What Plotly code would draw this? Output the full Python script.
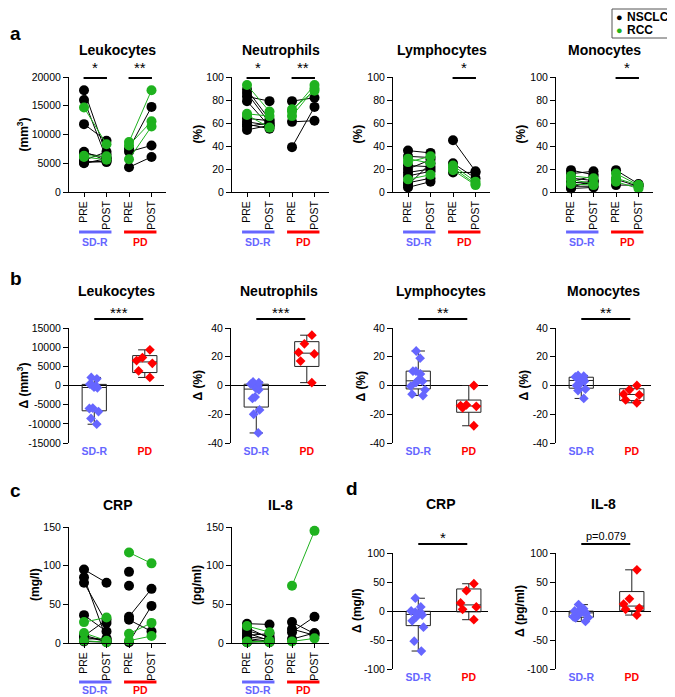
import numpy as np
import plotly.graph_objects as go

W, H = 675, 697
PAGE_OFFSET = 8  # the page body margin that shifts the figure inside the window
FONT = "Liberation Sans, Arial, Helvetica, sans-serif"
BLACK, GREEN, BLUE, RED = "#000000", "#1fb21f", "#6666ff", "#ff0000"
COHORT_COLORS = {"NSCLC": BLACK, "RCC": GREEN}

# ---------------- data ----------------
stage_labels = ["PRE", "POST", "PRE", "POST"]
group_labels = ["SD-R", "PD"]
cohort_names = ["NSCLC", "RCC"]

# panel a: paired PRE/POST values (SD-R and PD), cohort of each patient
leuko_sdr_pre = [17700, 16000, 14700, 11800, 7000, 6800, 6300, 6100, 5500, 5300, 5100, 5000]
leuko_sdr_post = [6500, 5800, 8300, 8900, 5500, 6000, 6200, 5600, 7000, 5200, 5400, 5800]
leuko_sdr_cohort = ["NSCLC", "NSCLC", "RCC", "NSCLC", "NSCLC", "NSCLC", "RCC", "RCC", "NSCLC", "NSCLC", "NSCLC", "NSCLC"]
leuko_pd_pre = [8700, 8100, 7500, 7000, 5700, 4300]
leuko_pd_post = [17700, 12300, 14800, 8100, 11400, 6100]
leuko_pd_cohort = ["RCC", "RCC", "NSCLC", "NSCLC", "RCC", "NSCLC"]

neut_sdr_pre = [93, 89, 86, 83, 79, 68, 67, 64, 61, 59, 57, 54]
neut_sdr_post = [70, 63, 60, 79, 57, 66, 56, 62, 58, 55, 60, 58]
neut_sdr_cohort = ["RCC", "NSCLC", "NSCLC", "NSCLC", "NSCLC", "RCC", "RCC", "NSCLC", "NSCLC", "NSCLC", "NSCLC", "NSCLC"]
neut_pd_pre = [79, 72, 70, 66, 61, 39]
neut_pd_post = [82, 88, 93, 90, 62, 74]
neut_pd_cohort = ["NSCLC", "RCC", "RCC", "RCC", "NSCLC", "NSCLC"]

lymph_sdr_pre = [36, 31, 29, 26, 23, 20, 17, 14, 11, 8, 6, 4]
lymph_sdr_post = [34, 30, 25, 31, 22, 28, 20, 18, 15, 12, 25, 9]
lymph_sdr_cohort = ["NSCLC", "NSCLC", "RCC", "RCC", "NSCLC", "NSCLC", "NSCLC", "NSCLC", "RCC", "NSCLC", "NSCLC", "NSCLC"]
lymph_pd_pre = [45, 25, 23, 21, 19, 17]
lymph_pd_post = [18, 12, 9, 7, 6, 17]
lymph_pd_cohort = ["NSCLC", "NSCLC", "RCC", "RCC", "RCC", "NSCLC"]

mono_sdr_pre = [19, 16, 14, 12, 11, 9, 8, 7, 6, 5, 4, 3]
mono_sdr_post = [15, 18, 12, 10, 7, 14, 9, 6, 8, 5, 10, 4]
mono_sdr_cohort = ["NSCLC", "NSCLC", "RCC", "NSCLC", "RCC", "NSCLC", "NSCLC", "RCC", "NSCLC", "NSCLC", "NSCLC", "NSCLC"]
mono_pd_pre = [19, 16, 12, 11, 9, 6]
mono_pd_post = [7, 6, 6, 5, 3, 6]
mono_pd_cohort = ["NSCLC", "RCC", "RCC", "NSCLC", "RCC", "NSCLC"]

# panel c
crp_sdr_pre = [95, 85, 78, 36, 27, 13, 10, 8, 5, 3, 2, 9]
crp_sdr_post = [78, 5, 26, 15, 33, 3, 2, 2, 6, 1, 1, 30]
crp_sdr_cohort = ["NSCLC", "NSCLC", "NSCLC", "NSCLC", "RCC", "RCC", "NSCLC", "NSCLC", "NSCLC", "RCC", "NSCLC", "NSCLC"]
crp_pd_pre = [117, 92, 74, 34, 30, 12, 1, 3]
crp_pd_post = [103, None, None, 70, 15, 26, 48, 9]
crp_pd_cohort = ["RCC", "NSCLC", "NSCLC", "NSCLC", "NSCLC", "RCC", "NSCLC", "RCC"]

il8_sdr_pre = [25, 22, 20, 16, 13, 10, 8, 6, 4, 2, 1, 1]
il8_sdr_post = [24, 14, 6, 8, 3, 12, 5, 2, 1, 1, 3, 2]
il8_sdr_cohort = ["NSCLC", "RCC", "NSCLC", "NSCLC", "NSCLC", "NSCLC", "NSCLC", "NSCLC", "NSCLC", "RCC", "RCC", "NSCLC"]
il8_pd_pre = [74, 14, 27, 5, 2, 18]
il8_pd_post = [145, 34, 12, 13, 6, 10]
il8_pd_cohort = ["RCC", "NSCLC", "NSCLC", "NSCLC", "RCC", "NSCLC"]

# panels b and d: deltas (POST - PRE)
d_leuko_sdr = [2100, 1750, 350, 100, -150, -450, -600, -5900, -6000, -6800, -8600, -10100]
d_leuko_pd = [9300, 7300, 6500, 5800, 3800, 2100]
d_neut_sdr = [2.5, 2, 1, 0.5, -0.5, -2, -3, -8, -9, -17, -20, -33]
d_neut_pd = [35, 29, 23, 22, 17, 2]
d_lymph_sdr = [24, 19, 10, 10, 8, 3.5, 3, 2, -0.5, -3, -6, -7]
d_lymph_pd = [0, -13.5, -14, -15.5, -14.5, -28]
d_mono_sdr = [7, 6.5, 6, 5, 4.5, 4, 3, 1, 0, -2.5, -3.5, -9]
d_mono_pd = [0, -3, -6.5, -6, -10, -12]
d_crp_sdr = [22, 7, 0, -2, -3, -5, -7, -10, -17, -28, -52, -69]
d_crp_pd = [47, 35, 14, 7, 3, -15]
d_il8_sdr = [11, 4, 0, -1, -2, -3, -3.5, -5, -10, -11, -12, -18]
d_il8_pd = [71, 21, 12, 5, 3, -7]

# tick values
leuko_ticks = [0, 5000, 10000, 15000, 20000]
pct_ticks = [0, 20, 40, 60, 80, 100]
conc_ticks = [0, 50, 100, 150]
d_leuko_ticks = [-15000, -10000, -5000, 0, 5000, 10000, 15000]
d_pct_ticks = [-40, -20, 0, 20, 40]
d_conc_ticks = [-100, -50, 0, 50, 100]

# ---------------- helpers ----------------
def fx(p):
    return (p - PAGE_OFFSET) / W


def fy(p):
    return 1 - (p - PAGE_OFFSET) / H


traces, shapes, annotations = [], [], []
layout_axes = {}
axis_n = [0]
PAIR_W, PAIR_RANGE = 97, [-0.667, 3.644]
BOX_W, BOX_RANGE = 95, [-0.5, 1.38]


def text(x, y, s, size=11, bold=False, color="black", xref="paper", angle=0,
         xanchor="center", yanchor="middle"):
    annotations.append(dict(
        x=x, y=y, xref=xref, yref="paper", text=s, showarrow=False,
        textangle=angle, xanchor=xanchor, yanchor=yanchor,
        font=dict(family=FONT, size=size, color=color, weight="bold" if bold else "normal")))


def make_axes(left, width, top, bottom, xr, yr, yticks, kind):
    axis_n[0] += 1
    n = axis_n[0]
    sfx = "" if n == 1 else str(n)
    xa, ya = "x" + sfx, "y" + sfx
    yax = dict(domain=[fy(bottom), fy(top)], range=yr, anchor=xa, showline=True,
               linecolor="black", linewidth=1, ticks="outside", ticklen=5, tickwidth=1,
               tickcolor="black", tickvals=yticks, ticktext=[str(v) for v in yticks],
               tickfont=dict(size=10.5), showgrid=False, fixedrange=True, automargin=False)
    xax = dict(domain=[fx(left), fx(left + width)], range=xr, anchor=ya, showgrid=False,
               zeroline=False, fixedrange=True, tickfont=dict(size=10.5), automargin=False)
    if kind == "pair":
        xax.update(showline=True, linecolor="black", linewidth=1, ticks="outside", ticklen=4,
                   tickwidth=1, tickcolor="black", tickvals=[0, 1, 2, 3],
                   ticktext=stage_labels, tickangle=-90)
        yax.update(zeroline=False)
    else:
        xax.update(showline=False, ticks="", tickvals=[0, 1], ticktext=[
            f'<b><span style="color:{BLUE}">{group_labels[0]}</span></b>',
            f'<b><span style="color:{RED}">{group_labels[1]}</span></b>'])
        yax.update(zeroline=True, zerolinecolor="black", zerolinewidth=1)
    layout_axes["xaxis" + sfx] = xax
    layout_axes["yaxis" + sfx] = yax
    return xa, ya


def pair_panel(left, top, bottom, yr, yticks, title, title_y, ytitle, ytitle_x,
               sdr, pdd, sig, bar_y, lab_y):
    xa, ya = make_axes(left, PAIR_W, top, bottom, PAIR_RANGE, yr, yticks, "pair")
    for (pre, post, coh), off in ((sdr, 0), (pdd, 2)):
        for name in cohort_names:
            xs, ys = [], []
            for a, b, c in zip(pre, post, coh):
                if c == name:
                    xs += [off, off + 1, None]
                    ys += [a, b, None]
            if xs:
                col = COHORT_COLORS[name]
                traces.append(go.Scatter(
                    x=xs, y=ys, mode="lines+markers", xaxis=xa, yaxis=ya, name=name,
                    line=dict(color=col, width=1), marker=dict(color=col, size=10),
                    connectgaps=False, cliponaxis=False, showlegend=False, hoverinfo="y"))
    cx = left + PAIR_W / 2
    text(fx(cx), fy(title_y), title, size=14, bold=True)
    text(fx(ytitle_x), fy((top + bottom) / 2), ytitle, size=12, bold=True, angle=-90)
    for i, s in enumerate(sig):
        if not s:
            continue
        x0, x1 = 2 * i - 0.02, 2 * i + 1.02
        shapes.append(dict(type="line", xref=xa, yref="paper", x0=x0, x1=x1,
                           y0=fy(top + 1), y1=fy(top + 1), line=dict(color="black", width=2)))
        text((x0 + x1) / 2, fy(top - 9), s, size=15, xref=xa)
    for i, (g, col) in enumerate(zip(group_labels, [BLUE, RED])):
        shapes.append(dict(type="line", xref=xa, yref="paper", x0=2 * i - 0.22, x1=2 * i + 1.22,
                           y0=fy(bar_y), y1=fy(bar_y), line=dict(color=col, width=3)))
        text(2 * i + 0.5, fy(lab_y), g, size=10.5, bold=True, color=col, xref=xa)


def box_panel(left, top, bottom, yr, yticks, title, title_y, ytitle, ytitle_x,
              sdr, pdd, sig, sig_dy=9):
    xa, ya = make_axes(left, BOX_W, top, bottom, BOX_RANGE, yr, yticks, "box")
    for pos, vals, col in ((0, sdr, BLUE), (1, pdd, RED)):
        q1, med, q3 = np.percentile(vals, [25, 50, 75], method="weibull")
        traces.append(go.Box(
            x=[pos], q1=[q1], median=[med], q3=[q3], lowerfence=[min(vals)],
            upperfence=[max(vals)], width=0.48, whiskerwidth=0.55, xaxis=xa, yaxis=ya,
            line=dict(color="#222222", width=1), fillcolor="rgba(0,0,0,0)",
            boxpoints=False, showlegend=False, hoverinfo="skip"))
        traces.append(go.Box(
            x=[pos] * len(vals), y=vals, boxpoints="all", jitter=0.8, pointpos=0,
            width=0.48, xaxis=xa, yaxis=ya, line=dict(width=0, color=col),
            fillcolor="rgba(0,0,0,0)", marker=dict(symbol="diamond", size=7.5, color=col),
            showlegend=False, hoveron="points"))
    cx = left + BOX_W / 2
    text(fx(cx), fy(title_y), title, size=14, bold=True)
    text(fx(ytitle_x), fy((top + bottom) / 2), ytitle, size=12, bold=True, angle=-90)
    ly = top - sig_dy
    shapes.append(dict(type="line", xref=xa, yref="paper", x0=0, x1=0.97,
                       y0=fy(ly), y1=fy(ly), line=dict(color="black", width=2)))
    if sig.startswith("p="):
        text(0.485, fy(ly - 8), sig, size=11, xref=xa)
    else:
        text(0.485, fy(ly - 7), sig, size=15, xref=xa)


# ---------------- row a ----------------
A_TOP, A_BOT = 77, 192
pair_panel(69, A_TOP, A_BOT, [0, 20000], leuko_ticks, "Leukocytes", 50, "(mm<sup>3</sup>)", 22,
           (leuko_sdr_pre, leuko_sdr_post, leuko_sdr_cohort),
           (leuko_pd_pre, leuko_pd_post, leuko_pd_cohort), ["*", "**"], 232, 242)
pair_panel(232, A_TOP, A_BOT, [0, 100], pct_ticks, "Neutrophils", 50, "(%)", 197,
           (neut_sdr_pre, neut_sdr_post, neut_sdr_cohort),
           (neut_pd_pre, neut_pd_post, neut_pd_cohort), ["*", "**"], 232, 242)
pair_panel(393, A_TOP, A_BOT, [0, 100], pct_ticks, "Lymphocytes", 50, "(%)", 357,
           (lymph_sdr_pre, lymph_sdr_post, lymph_sdr_cohort),
           (lymph_pd_pre, lymph_pd_post, lymph_pd_cohort), ["", "*"], 232, 242)
pair_panel(556, A_TOP, A_BOT, [0, 100], pct_ticks, "Monocytes", 50, "(%)", 520,
           (mono_sdr_pre, mono_sdr_post, mono_sdr_cohort),
           (mono_pd_pre, mono_pd_post, mono_pd_cohort), ["", "*"], 232, 242)

# ---------------- row b ----------------
B_TOP, B_BOT = 328, 443
box_panel(69, B_TOP, B_BOT, [-15000, 15000], d_leuko_ticks, "Leukocytes", 291,
          "Δ (mm<sup>3</sup>)", 22, d_leuko_sdr, d_leuko_pd, "***")
box_panel(231, B_TOP, B_BOT, [-40, 40], d_pct_ticks, "Neutrophils", 291,
          "Δ (%)", 197, d_neut_sdr, d_neut_pd, "***")
box_panel(393, B_TOP, B_BOT, [-40, 40], d_pct_ticks, "Lymphocytes", 291,
          "Δ (%)", 360, d_lymph_sdr, d_lymph_pd, "**")
box_panel(556, B_TOP, B_BOT, [-40, 40], d_pct_ticks, "Monocytes", 291,
          "Δ (%)", 523, d_mono_sdr, d_mono_pd, "**")

# ---------------- row c ----------------
C_TOP, C_BOT = 527, 643
pair_panel(69, C_TOP, C_BOT, [0, 150], conc_ticks, "CRP", 505, "(mg/l)", 35,
           (crp_sdr_pre, crp_sdr_post, crp_sdr_cohort),
           (crp_pd_pre, crp_pd_post, crp_pd_cohort), ["", ""], 682, 690)
pair_panel(232, C_TOP, C_BOT, [0, 150], conc_ticks, "IL-8", 505, "(pg/ml)", 197,
           (il8_sdr_pre, il8_sdr_post, il8_sdr_cohort),
           (il8_pd_pre, il8_pd_post, il8_pd_cohort), ["", ""], 682, 690)

# ---------------- row d ----------------
D_TOP, D_BOT = 553, 669
box_panel(393, D_TOP, D_BOT, [-100, 100], d_conc_ticks, "CRP", 504,
          "Δ (mg/l)", 357, d_crp_sdr, d_crp_pd, "*")
box_panel(556, D_TOP, D_BOT, [-100, 100], d_conc_ticks, "IL-8", 504,
          "Δ (pg/ml)", 520, d_il8_sdr, d_il8_pd, "p=0.079")

# panel letters
for lx, ly, s in ((8, 33, "a"), (8, 278, "b"), (8, 490, "c"), (344, 488, "d")):
    text(fx(lx), fy(ly), s, size=19, bold=True, xanchor="left")

# legend (cohort key), drawn as a framed key at the top right
shapes.append(dict(type="rect", xref="paper", yref="paper", x0=fx(612), x1=fx(672),
                   y0=fy(38), y1=fy(9), line=dict(color="#555555", width=1),
                   fillcolor="white", layer="above"))
for i, name in enumerate(cohort_names):
    yy = 17 + 13 * i
    text(fx(619), fy(yy), "●", size=11, color=COHORT_COLORS[name])
    text(fx(625), fy(yy), name, size=12, bold=True, xanchor="left")

fig = go.Figure(data=traces)
fig.update_layout(
    width=W, height=H, margin=dict(l=0, r=0, t=0, b=0, pad=0),
    paper_bgcolor="white", plot_bgcolor="white",
    font=dict(family=FONT, size=11, color="black"),
    showlegend=False, boxmode="overlay",
    shapes=shapes, annotations=annotations, **layout_axes)

fig.write_html("out.html")
